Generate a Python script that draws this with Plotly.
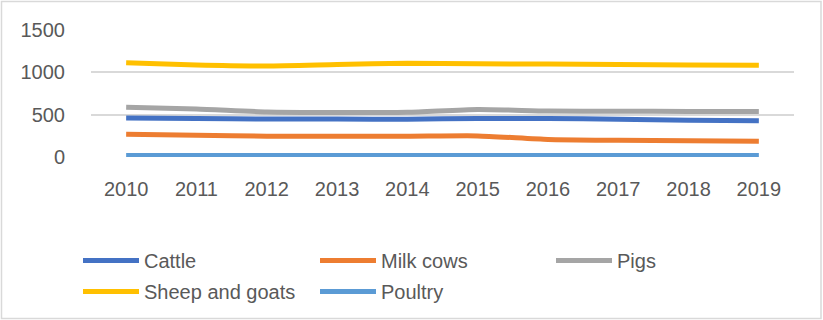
import plotly.graph_objects as go

years = ["2010", "2011", "2012", "2013", "2014", "2015", "2016", "2017", "2018", "2019"]
cattle = [462, 456, 448, 448, 447, 455, 455, 445, 435, 427]
milk_cows = [269, 258, 246, 245, 245, 249, 208, 198, 192, 186]
pigs = [589, 568, 532, 526, 528, 561, 542, 540, 538, 537]
sheep_goats = [1112, 1087, 1075, 1092, 1107, 1100, 1097, 1092, 1087, 1085]
poultry = [18, 17, 17, 19, 18, 18, 18, 18, 18, 18]

series = [
    ("Cattle", cattle, "#4472C4"),
    ("Milk cows", milk_cows, "#ED7D31"),
    ("Pigs", pigs, "#A5A5A5"),
    ("Sheep and goats", sheep_goats, "#FFC000"),
    ("Poultry", poultry, "#5B9BD5"),
]
# legend slot (pixel left, pixel top) for each series
legend_slots = [(78, 241), (315, 241), (551, 241), (78, 272), (315, 272)]

FONT = "Liberation Sans, Arial, sans-serif"
W, H = 823, 320
ML, MR, MT, MB = 91, 29, 30, 163

fig = go.Figure()
legend_layouts = {}
for i, (name, vals, color) in enumerate(series):
    key = "legend" if i == 0 else f"legend{i + 1}"
    fig.add_trace(go.Scatter(
        x=years, y=vals, name=name, mode="lines", legend=key,
        line=dict(color=color, width=5, shape="spline", smoothing=0.6),
    ))
    lx, ly = legend_slots[i]
    legend_layouts[key] = dict(
        orientation="v", xref="container", yref="container",
        x=lx / W, y=1 - ly / H, xanchor="left", yanchor="top",
        itemwidth=56,
        font=dict(family=FONT, size=20, color="#595959"),
        bgcolor="rgba(0,0,0,0)",
    )

pw = W - ML - MR
ph = H - MT - MB

def px_x(p):
    return (p - ML) / pw

def px_y(p):
    return (H - MB - p) / ph

fig.add_shape(type="rect", xref="paper", yref="paper",
              x0=px_x(1.5), x1=px_x(821), y0=px_y(318.5), y1=px_y(1.5),
              line=dict(color="#D9D9D9", width=1.5), fillcolor="rgba(0,0,0,0)", layer="below")

fig.update_layout(
    width=W, height=H,
    margin=dict(l=ML, r=MR, t=MT, b=MB, autoexpand=False),
    paper_bgcolor="white", plot_bgcolor="white",
    font=dict(family=FONT, size=20, color="#595959"),
    showlegend=True,
    xaxis=dict(
        type="category", range=[-0.5, 9.5], showgrid=False, zeroline=False,
        showline=False, ticks="", ticklabelstandoff=18, automargin=False,
        tickfont=dict(family=FONT, size=20, color="#595959"),
    ),
    yaxis=dict(
        range=[0, 1500], tickvals=[0, 500, 1000, 1500], automargin=False,
        showgrid=True, gridcolor="#D9D9D9", gridwidth=1.5,
        zeroline=False, showline=False, ticks="", ticklabelstandoff=25,
        tickfont=dict(family=FONT, size=20, color="#595959"),
    ),
    **legend_layouts,
)

fig.write_html("out.html")
